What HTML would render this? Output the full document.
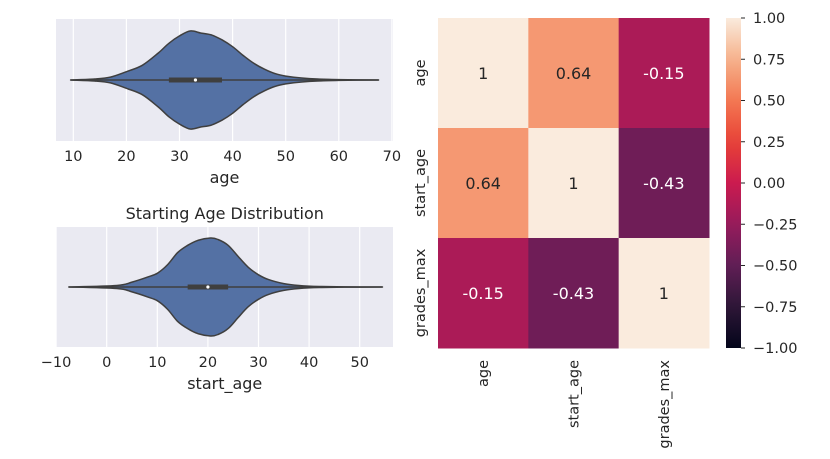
<!DOCTYPE html>
<html><head><meta charset="utf-8"><style>
body{margin:0;background:#fff;}
svg{display:block;font-family:"DejaVu Sans","Liberation Sans",sans-serif;}
</style></head><body>
<svg id="c" width="830" height="459" viewBox="0 0 830 459"></svg>
<script>
const ageX=[9.5,14,17,20,23,26,28,30,32,34,36,38,40,42,44,46,48,50,53,56,60,67.5];
const ageD=[0,0.02,0.06,0.17,0.3,0.55,0.75,0.9,1.0,0.96,0.92,0.82,0.68,0.5,0.34,0.22,0.13,0.08,0.04,0.02,0.008,0];
const ageBox=[28,33,38];
const ageTicks=[10,20,30,40,50,60,70];
const stX=[-7.5,2,5,8,10,12,14,16,18,20.5,22,24,26,28,30,32,35,38,42,47,54.5];
const stD=[0,0.03,0.1,0.2,0.28,0.45,0.7,0.85,0.95,1.0,0.97,0.85,0.62,0.4,0.25,0.15,0.07,0.03,0.01,0.003,0];
const stBox=[16,20,24];
const stTicks=[-10,0,10,20,30,40,50];
const labels=["age","start_age","grades_max"];
const corr=[[1,0.64,-0.15],[0.64,1,-0.43],[-0.15,-0.43,1]];
const cbTicks=[1,0.75,0.5,0.25,0,-0.25,-0.5,-0.75,-1];

const NS="http://www.w3.org/2000/svg",svg=document.getElementById('c');
function mk(t,a,p){const e=document.createElementNS(NS,t);for(const k in a)e.setAttribute(k,a[k]);(p||svg).appendChild(e);return e;}
function txt(s,a,p){const e=mk('text',a,p);e.textContent=s;return e;}
function smooth(pts,start){let d=start?'M'+pts[0][0].toFixed(1)+','+pts[0][1].toFixed(1):'L'+pts[0][0].toFixed(1)+','+pts[0][1].toFixed(1);
  for(let i=0;i<pts.length-1;i++){const p0=pts[Math.max(i-1,0)],p1=pts[i],p2=pts[i+1],p3=pts[Math.min(i+2,pts.length-1)];
    const c1=[p1[0]+(p2[0]-p0[0])/6,p1[1]+(p2[1]-p0[1])/6],c2=[p2[0]-(p3[0]-p1[0])/6,p2[1]-(p3[1]-p1[1])/6];
    d+='C'+c1.map(v=>v.toFixed(1)).join(',')+' '+c2.map(v=>v.toFixed(1)).join(',')+' '+p2.map(v=>v.toFixed(1)).join(',');}
  return d;}

function violin(cfg){
  const {L,R,T,B,x0,px,xs,ds,box,ticks,xlabel,title,name}=cfg;
  const g=mk('g',{});
  
  
  const sx=v=>x0+(v-0)*px, cy=(T+B)/2, hw=49;
  const bg=mk('rect',{x:L,y:T,width:R-L,height:B-T,fill:'#eaeaf2'},g);
  
  ticks.forEach(t=>{const x=sx(t);if(x<L-1||x>R+1)return;
    const gl=mk('line',{x1:x,x2:x,y1:T,y2:B,stroke:'#fff','stroke-width':1.2},g);
    });
  ticks.forEach(t=>{const x=sx(t);
    const tl=txt(String(t).replace('-','\u2212'),{x:x,y:B+20,'text-anchor':'middle','font-size':14.5,fill:'#262626'},g);
    });
  const topPts=xs.map((v,i)=>[sx(v),cy-ds[i]*hw]);
  const botPts=xs.map((v,i)=>[sx(v),cy+ds[i]*hw]).reverse();
  const vp=mk('path',{d:smooth(topPts,true)+smooth(botPts,false)+'Z',fill:'#5471a4',stroke:'#3f3f3f','stroke-width':1.5,'stroke-linejoin':'round'},g);
  
  const wl=mk('line',{x1:sx(xs[0]),x2:sx(xs[xs.length-1]),y1:cy,y2:cy,stroke:'#3f3f3f','stroke-width':1.5},g);
  
  const bx=mk('rect',{x:sx(box[0]),y:cy-2.5,width:sx(box[2])-sx(box[0]),height:5,fill:'#3f3f3f'},g);
  
  const md=mk('circle',{cx:sx(box[1]),cy:cy,r:1.6,fill:'#fff'},g);
  
  const xl=txt(xlabel,{x:(L+R)/2,y:B+42,'text-anchor':'middle','font-size':16,fill:'#262626'},g);
  
  if(title){const tt=txt(title,{x:(L+R)/2,y:T-8,'text-anchor':'middle','font-size':16,fill:'#262626'},g);
    }
}
violin({L:56,R:393,T:19,B:141,x0:73.3-10*5.31,px:5.31,xs:ageX,ds:ageD,box:ageBox,ticks:ageTicks,xlabel:'age',name:'age-violin'});
violin({L:56.5,R:393,T:227,B:347,x0:106.7,px:5.06,xs:stX,ds:stD,box:stBox,ticks:stTicks,xlabel:'start_age',title:'Starting Age Distribution',name:'start-age-violin'});

const stops=[[-1,[3,5,26]],[-0.75,[45,23,55]],[-0.5,[96,30,85]],[-0.25,[150,27,92]],[0,[203,27,79]],[0.25,[232,66,54]],[0.5,[243,120,83]],[0.75,[246,177,139]],[1,[250,235,221]]];
function rocket(v){for(let i=0;i<stops.length-1;i++){const [a,ca]=stops[i],[b,cb]=stops[i+1];
  if(v<=b){const t=(v-a)/(b-a);return 'rgb('+ca.map((c,k)=>Math.round(c+(cb[k]-c)*t)).join(',')+')';}}return 'rgb(250,235,221)';}

const HL=438,HR=709,HT=18,HB=348,cw=(HR-HL)/3,ch=(HB-HT)/3;
const hg=mk('g',{});
corr.forEach((row,r)=>row.forEach((v,c)=>{
  const cell=mk('rect',{x:HL+c*cw,y:HT+r*ch,width:cw+0.5,height:ch+0.5,fill:rocket(v)},hg);
  
  const a=txt(String(v),{x:HL+(c+0.5)*cw,y:HT+(r+0.5)*ch+6,'text-anchor':'middle','font-size':16,fill:v>0.3?'#262626':'#fff'},hg);
  
}));
labels.forEach((l,i)=>{
  const y=HT+(i+0.5)*ch;
  const rl=txt(l,{x:425,y:y,'text-anchor':'middle','font-size':14.5,fill:'#262626',transform:'rotate(-90 425 '+y+')'},hg);
  
  const x=HL+(i+0.5)*cw+5;
  const cl=txt(l,{x:x,y:360,'text-anchor':'end','font-size':14.5,fill:'#262626',transform:'rotate(-90 '+x+' 360)'},hg);
  
});
const CL=726,CR=741,defs=mk('defs',{});
const grad=mk('linearGradient',{id:'rk',x1:0,y1:1,x2:0,y2:0},defs);
for(let i=0;i<=20;i++){const v=-1+i*0.1;mk('stop',{offset:(i/20),'stop-color':rocket(v)},grad);}
const cb=mk('rect',{x:CL,y:HT,width:CR-CL,height:HB-HT,fill:'url(#rk)'});

cbTicks.forEach(t=>{const y=HT+(1-t)/2*(HB-HT);
  mk('line',{x1:CR,x2:CR+4,y1:y,y2:y,stroke:'#262626','stroke-width':1});
  const tl=txt((t<0?'\u2212':'')+Math.abs(t).toFixed(2),{x:CR+12,y:y+5,'font-size':14.5,fill:'#262626'});
  });
</script>
</body></html>
